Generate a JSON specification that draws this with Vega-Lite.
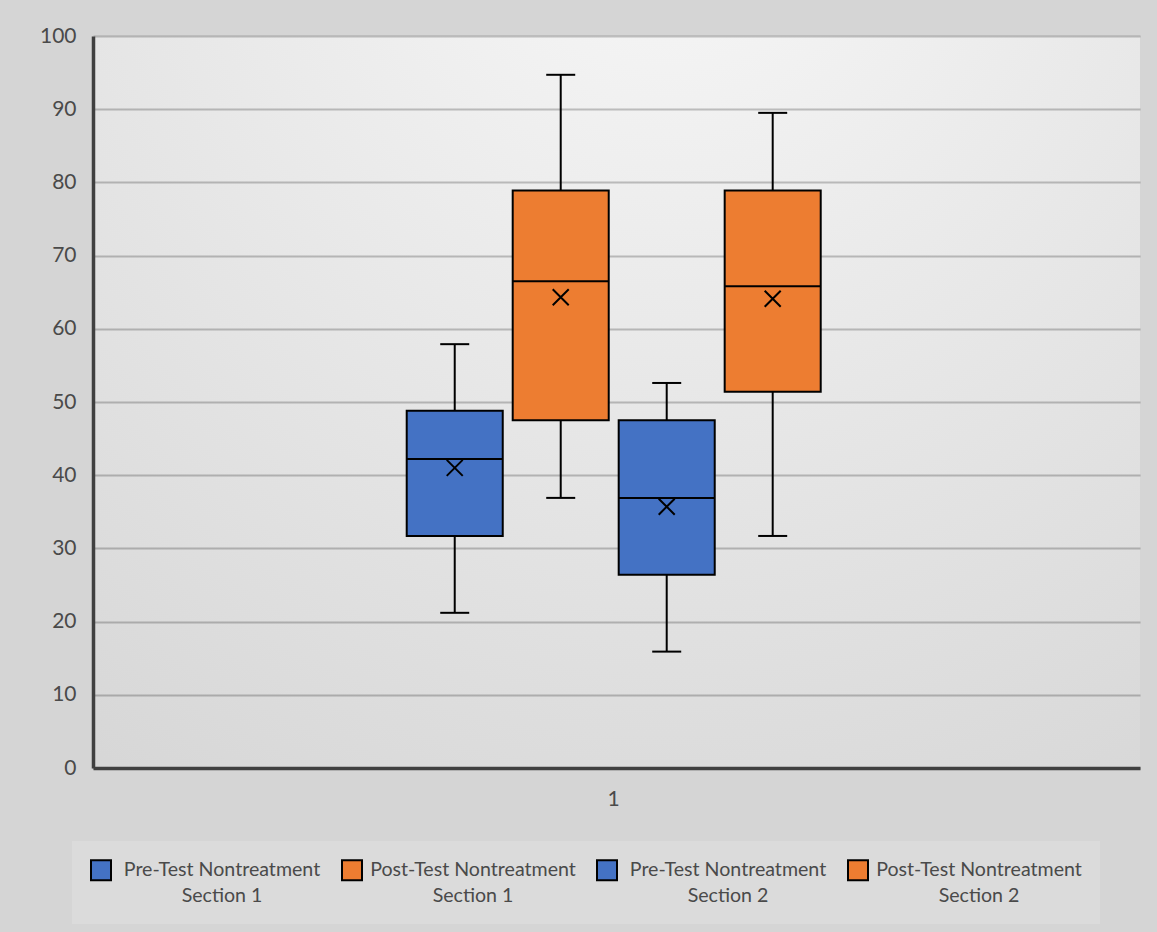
{
  "$schema": "https://vega.github.io/schema/vega-lite/v6.json",
  "width": 1047,
  "height": 732,
  "autosize": {"type": "none"},
  "padding": {"left": 93, "top": 36, "right": 17, "bottom": 164},
  "background": "#d5d5d5",
  "config": {
    "font": "Lato",
    "view": {
      "stroke": null,
      "fill": {
        "gradient": "radial",
        "x1": 0.55, "y1": 0.0, "r1": 0,
        "x2": 0.55, "y2": 0.0, "r2": 1.15,
        "stops": [
          {"offset": 0, "color": "#f8f8f8"},
          {"offset": 1, "color": "#d2d2d2"}
        ]
      }
    },
    "axis": {
      "domainColor": "#404040",
      "domainWidth": 3.5,
      "ticks": false,
      "tickSize": 0,
      "labelFontSize": 21,
      "labelColor": "#4a4a4a",
      "title": null
    }
  },
  "data": {
    "values": [
      {"cat": "1", "series": "Pre-Test Nontreatment Section 1", "min": 21.2, "q1": 31.7, "median": 42.2, "q3": 48.8, "max": 57.9, "mean": 41.0},
      {"cat": "1", "series": "Post-Test Nontreatment Section 1", "min": 36.9, "q1": 47.5, "median": 66.5, "q3": 78.9, "max": 94.7, "mean": 64.3},
      {"cat": "1", "series": "Pre-Test Nontreatment Section 2", "min": 15.9, "q1": 26.4, "median": 36.9, "q3": 47.5, "max": 52.6, "mean": 35.7},
      {"cat": "1", "series": "Post-Test Nontreatment Section 2", "min": 31.7, "q1": 51.4, "median": 65.8, "q3": 78.9, "max": 89.5, "mean": 64.1}
    ]
  },
  "encoding": {
    "x": {
      "field": "cat",
      "type": "nominal",
      "scale": {"paddingInner": 0, "paddingOuter": 0.7645, "align": 0.4956},
      "axis": {"labelAngle": 0, "labelPadding": 20, "grid": false}
    },
    "xOffset": {
      "field": "series",
      "type": "nominal",
      "sort": ["Pre-Test Nontreatment Section 1", "Post-Test Nontreatment Section 1", "Pre-Test Nontreatment Section 2", "Post-Test Nontreatment Section 2"],
      "scale": {"paddingInner": 0.094, "paddingOuter": 0}
    }
  },
  "layer": [
    {
      "mark": {"type": "rule", "stroke": "black", "strokeWidth": 2},
      "encoding": {
        "y": {
          "field": "min",
          "type": "quantitative",
          "scale": {"domain": [0, 100], "nice": false},
          "axis": {
            "values": [0, 10, 20, 30, 40, 50, 60, 70, 80, 90, 100],
            "grid": true,
            "gridColor": "#000000",
            "gridOpacity": 0.22,
            "gridWidth": 2,
            "labelPadding": 17
          }
        },
        "y2": {"field": "q1"}
      }
    },
    {
      "mark": {"type": "rule", "stroke": "black", "strokeWidth": 2},
      "encoding": {
        "y": {"field": "q3", "type": "quantitative"},
        "y2": {"field": "max"}
      }
    },
    {
      "mark": {"type": "bar", "stroke": "black", "strokeWidth": 2, "opacity": 1},
      "encoding": {
        "y": {"field": "q1", "type": "quantitative"},
        "y2": {"field": "q3"},
        "color": {
          "field": "series",
          "type": "nominal",
          "scale": {
            "domain": ["Pre-Test Nontreatment Section 1", "Post-Test Nontreatment Section 1", "Pre-Test Nontreatment Section 2", "Post-Test Nontreatment Section 2"],
            "range": ["#4472c4", "#ed7d31", "#4472c4", "#ed7d31"]
          },
          "legend": {
            "orient": "none",
            "legendX": -21,
            "legendY": 805,
            "direction": "horizontal",
            "columns": 4,
            "title": null,
            "fillColor": "#dbdbdb",
            "padding": 18,
            "columnPadding": 17,
            "symbolType": "square",
            "symbolSize": 400,
            "symbolStrokeColor": "black",
            "symbolStrokeWidth": 2,
            "symbolOpacity": 1,
            "labelFontSize": 19.6,
            "labelColor": "#4a4a4a",
            "labelAlign": "center",
            "labelBaseline": "middle",
            "labelOffset": 110,
            "labelLimit": 400,
            "labelExpr": "[slice(datum.label, 0, indexof(datum.label, ' Section')), slice(datum.label, indexof(datum.label, 'Section'))]",
            "encode": {"labels": {"update": {"lineHeight": {"value": 26}}}}
          }
        }
      }
    },
    {
      "mark": {"type": "tick", "color": "black", "thickness": 2, "size": 96, "opacity": 1},
      "encoding": {"y": {"field": "median", "type": "quantitative"}}
    },
    {
      "mark": {"type": "tick", "color": "black", "thickness": 2, "size": 29, "opacity": 1},
      "encoding": {"y": {"field": "min", "type": "quantitative"}}
    },
    {
      "mark": {"type": "tick", "color": "black", "thickness": 2, "size": 29, "opacity": 1},
      "encoding": {"y": {"field": "max", "type": "quantitative"}}
    },
    {
      "mark": {"type": "point", "shape": "M-1,-1L1,1M-1,1L1,-1", "size": 256, "stroke": "black", "strokeWidth": 2, "filled": false, "opacity": 1},
      "encoding": {"y": {"field": "mean", "type": "quantitative"}}
    }
  ]
}
